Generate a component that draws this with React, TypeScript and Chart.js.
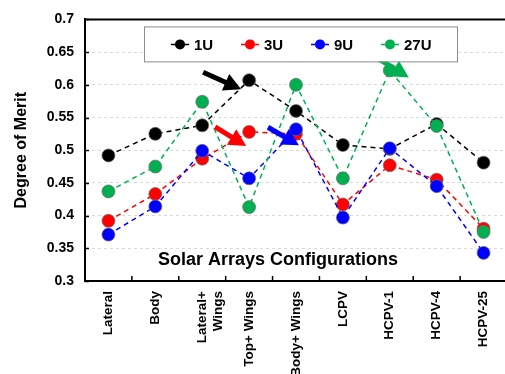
import React, { useEffect, useRef } from "react";
import { Chart, registerables } from "chart.js";

Chart.register(...registerables);

const categories: (string | string[])[] = [
  "Lateral",
  "Body",
  ["Lateral+", "Wings"],
  "Top+ Wings",
  "Body+ Wings",
  "LCPV",
  "HCPV-1",
  "HCPV-4",
  "HCPV-25",
];

const series1U = [0.492, 0.525, 0.538, 0.607, 0.56, 0.508, 0.502, 0.54, 0.481];
const series3U = [0.392, 0.433, 0.487, 0.528, 0.525, 0.417, 0.477, 0.455, 0.38];
const series9U = [0.371, 0.414, 0.499, 0.457, 0.532, 0.397, 0.503, 0.445, 0.343];
const series27U = [0.437, 0.475, 0.574, 0.413, 0.6, 0.457, 0.622, 0.537, 0.375];

const seriesNames = ["1U", "3U", "9U", "27U"];
const seriesColors = ["#000000", "#ff0000", "#0000ff", "#00b050"];

const yMin = 0.3;
const yMax = 0.7;
const yStep = 0.05;

const xTitle = "Solar Arrays Configurations";
const yTitle = "Degree of Merit";

// arrow annotations: dataset index, category index, tip offset from point, arrow vector (styling)
const arrows = [
  { ds: 0, idx: 3, tipDx: -8, tipDy: 9, vx: 38, vy: 17 },
  { ds: 1, idx: 3, tipDx: -3, tipDy: 14, vx: 31, vy: 19 },
  { ds: 2, idx: 4, tipDx: 3, tipDy: 16, vx: 31, vy: 18 },
  { ds: 3, idx: 6, tipDx: 19, tipDy: 7, vx: 31, vy: 19 },
];

const FONT = "'Liberation Sans', Arial, sans-serif";

const decorPlugin = {
  id: "decor",
  afterDraw(chart: any) {
    const ctx = chart.ctx;
    const area = chart.chartArea;
    const x = chart.scales.x;
    const y = chart.scales.y;
    ctx.save();

    // top border
    ctx.strokeStyle = "#000";
    ctx.lineWidth = 2;
    ctx.beginPath();
    ctx.moveTo(area.left - 1, area.top);
    ctx.lineTo(area.right + 10, area.top);
    ctx.stroke();

    // x tick marks between categories (inside)
    const n = categories.length;
    const step = x.getPixelForValue(1) - x.getPixelForValue(0);
    ctx.lineWidth = 1.5;
    for (let i = 0; i < n - 1; i++) {
      const px = x.getPixelForValue(i) + step / 2;
      ctx.beginPath();
      ctx.moveTo(px, area.bottom);
      ctx.lineTo(px, area.bottom - 5);
      ctx.stroke();
    }
    // y tick marks (inside)
    y.ticks.forEach((t: any) => {
      const py = Math.round(y.getPixelForValue(t.value)) + 0.5;
      ctx.beginPath();
      ctx.moveTo(area.left, py);
      ctx.lineTo(area.left + 4, py);
      ctx.stroke();
    });

    // x title inside plot
    ctx.fillStyle = "#000";
    ctx.font = `bold 18px ${FONT}`;
    ctx.textAlign = "center";
    ctx.textBaseline = "middle";
    ctx.fillText(xTitle, area.left + 193, y.getPixelForValue(0.3) - 21);

    // arrows
    arrows.forEach((a) => {
      const ds = chart.data.datasets[a.ds];
      const px = x.getPixelForValue(a.idx) + a.tipDx;
      const py = y.getPixelForValue(ds.data[a.idx]) + a.tipDy;
      const sx = px - a.vx;
      const sy = py - a.vy;
      const len = Math.hypot(a.vx, a.vy);
      const ux = a.vx / len;
      const uy = a.vy / len;
      const headLen = 17;
      const headW = 9;
      const bx = px - ux * headLen;
      const by = py - uy * headLen;
      ctx.strokeStyle = seriesColors[a.ds];
      ctx.fillStyle = seriesColors[a.ds];
      ctx.lineWidth = 5;
      ctx.lineCap = "butt";
      ctx.beginPath();
      ctx.moveTo(sx, sy);
      ctx.lineTo(bx + ux, by + uy);
      ctx.stroke();
      ctx.beginPath();
      ctx.moveTo(px, py);
      ctx.lineTo(bx - uy * headW, by + ux * headW);
      ctx.lineTo(bx + uy * headW, by - ux * headW);
      ctx.closePath();
      ctx.fill();
    });

    // legend box
    const lx = area.left + 59;
    const ly = area.top + 7;
    const lw = 313;
    const lh = 35;
    ctx.fillStyle = "#fff";
    ctx.fillRect(lx, ly, lw, lh);
    ctx.strokeStyle = "#8c8c8c";
    ctx.lineWidth = 1;
    ctx.strokeRect(lx + 0.5, ly + 0.5, lw, lh);
    const itemOffsets = [36, 106, 176, 246];
    const cy = ly + lh / 2 + 0.5;
    seriesNames.forEach((name, i) => {
      const mx = lx + itemOffsets[i];
      ctx.strokeStyle = seriesColors[i];
      ctx.lineWidth = 1.5;
      ctx.setLineDash([4, 3]);
      ctx.beginPath();
      ctx.moveTo(mx - 9, cy);
      ctx.lineTo(mx + 9, cy);
      ctx.stroke();
      ctx.setLineDash([]);
      ctx.fillStyle = seriesColors[i];
      ctx.beginPath();
      ctx.arc(mx, cy, 5, 0, Math.PI * 2);
      ctx.fill();
      ctx.fillStyle = "#000";
      ctx.font = `bold 15px ${FONT}`;
      ctx.textAlign = "left";
      ctx.textBaseline = "middle";
      ctx.fillText(name, mx + 14, cy + 1);
    });

    ctx.restore();
  },
};

export default function App() {
  const ref = useRef<HTMLCanvasElement>(null);

  useEffect(() => {
    if (!ref.current) return;
    const allSeries = [series1U, series3U, series9U, series27U];
    const chart = new Chart(ref.current, {
      type: "line",
      data: {
        labels: categories,
        datasets: allSeries.map((d, i) => ({
          label: seriesNames[i],
          data: d,
          borderColor: seriesColors[i],
          backgroundColor: seriesColors[i],
          borderWidth: 1.5,
          borderDash: [5, 4],
          pointRadius: 6.5,
          pointBackgroundColor: seriesColors[i],
          pointBorderColor: "rgba(110,110,110,0.7)",
          pointBorderWidth: 1,
          tension: 0,
          order: 3 - i,
        })),
      },
      options: {
        responsive: false,
        animation: false,
        devicePixelRatio: 1,
        layout: { padding: { top: 14, right: 8, left: 0, bottom: 0 } },
        plugins: {
          legend: { display: false },
          tooltip: { enabled: false },
        },
        scales: {
          x: {
            type: "category",
            offset: true,
            grid: { display: false, drawTicks: false },
            border: { display: true, color: "#000", width: 2 },
            ticks: {
              color: "#000",
              font: { family: FONT, size: 13.5, weight: "bold" },
              minRotation: 90,
              maxRotation: 90,
              autoSkip: false,
              padding: 10,
            },
            afterFit: (s: any) => {
              s.height = 93;
            },
          },
          y: {
            min: yMin,
            max: yMax,
            ticks: {
              stepSize: yStep,
              color: "#000",
              font: { family: FONT, size: 14, weight: "bold" },
              padding: 11,
              callback: (v: any) => String(Number(Number(v).toFixed(2))),
            },
            grid: {
              drawTicks: false,
              color: (c: any) =>
                c.tick && (Math.abs(c.tick.value - yMin) < 1e-6 || Math.abs(c.tick.value - yMax) < 1e-6)
                  ? "rgba(0,0,0,0)"
                  : "#d9d9d9",
              lineWidth: 1,
            },
            border: { display: true, color: "#000", width: 2, dash: [3, 3] },
            title: {
              display: true,
              text: yTitle,
              color: "#000",
              font: { family: FONT, size: 16, weight: "bold" },
              padding: { top: 12, bottom: 0 },
            },
            afterFit: (s: any) => {
              s.width = 85;
            },
          },
        },
      },
      plugins: [decorPlugin],
    } as any);
    return () => chart.destroy();
  }, []);

  return (
    <div style={{ position: "fixed", left: 0, top: 0, width: 505, height: 374, overflow: "hidden", background: "#fff" }}>
      <canvas ref={ref} width={515} height={374} style={{ display: "block" }} />
    </div>
  );
}
